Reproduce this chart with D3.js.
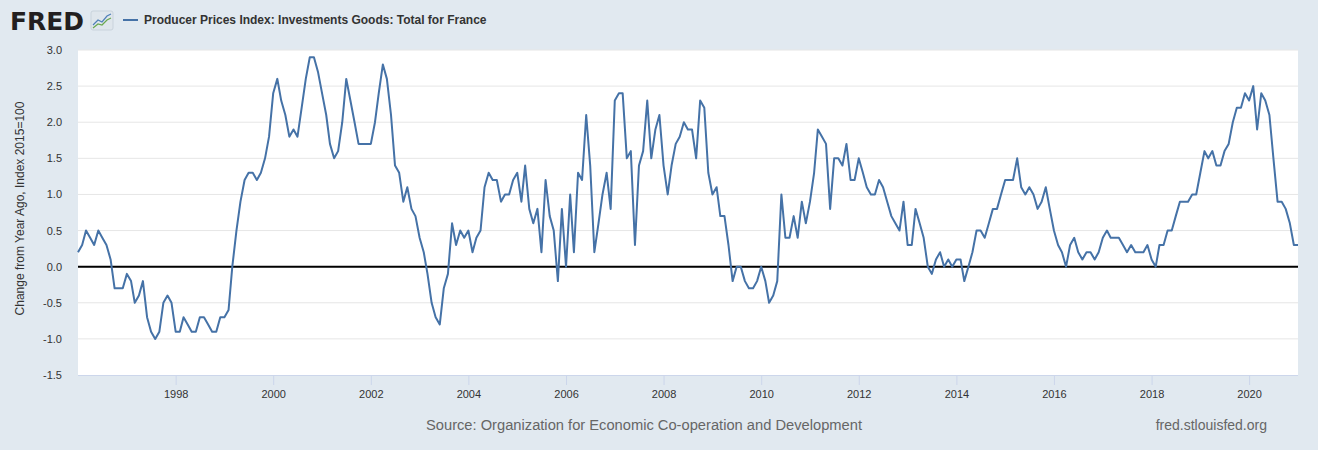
<!DOCTYPE html>
<html>
<head>
<meta charset="utf-8">
<script src="https://cdn.jsdelivr.net/npm/d3@7"></script>
<style>
  html, body { margin: 0; padding: 0; background: #e1e9f0; }
  svg { display: block; font-family: "Liberation Sans", Arial, Helvetica, sans-serif; }
</style>
</head>
<body>
<svg id="chart" width="1318" height="450"></svg>
<script>
// ---- Data (monthly, 1996-01 .. 2021-01) ----
const startYear = 1996;
const startMonth = 0;
const values = [
  // 1996
  0.2, 0.3, 0.5, 0.4, 0.3, 0.5, 0.4, 0.3, 0.1, -0.3, -0.3, -0.3,
  // 1997
  -0.1, -0.2, -0.5, -0.4, -0.2, -0.7, -0.9, -1.0, -0.9, -0.5, -0.4, -0.5,
  // 1998
  -0.9, -0.9, -0.7, -0.8, -0.9, -0.9, -0.7, -0.7, -0.8, -0.9, -0.9, -0.7,
  // 1999
  -0.7, -0.6, 0.0, 0.5, 0.9, 1.2, 1.3, 1.3, 1.2, 1.3, 1.5, 1.8,
  // 2000
  2.4, 2.6, 2.3, 2.1, 1.8, 1.9, 1.8, 2.2, 2.6, 2.9, 2.9, 2.7,
  // 2001
  2.4, 2.1, 1.7, 1.5, 1.6, 2.0, 2.6, 2.3, 2.0, 1.7, 1.7, 1.7,
  // 2002
  1.7, 2.0, 2.4, 2.8, 2.6, 2.1, 1.4, 1.3, 0.9, 1.1, 0.8, 0.7,
  // 2003
  0.4, 0.2, -0.1, -0.5, -0.7, -0.8, -0.3, -0.1, 0.6, 0.3, 0.5, 0.4,
  // 2004
  0.5, 0.2, 0.4, 0.5, 1.1, 1.3, 1.2, 1.2, 0.9, 1.0, 1.0, 1.2,
  // 2005
  1.3, 0.9, 1.4, 0.8, 0.6, 0.8, 0.2, 1.2, 0.7, 0.5, -0.2, 0.8,
  // 2006
  0.0, 1.0, 0.2, 1.3, 1.2, 2.1, 1.4, 0.2, 0.6, 1.0, 1.3, 0.8,
  // 2007
  2.3, 2.4, 2.4, 1.5, 1.6, 0.3, 1.4, 1.6, 2.3, 1.5, 1.9, 2.1,
  // 2008
  1.4, 1.0, 1.4, 1.7, 1.8, 2.0, 1.9, 1.9, 1.5, 2.3, 2.2, 1.3,
  // 2009
  1.0, 1.1, 0.7, 0.7, 0.3, -0.2, 0.0, 0.0, -0.2, -0.3, -0.3, -0.2,
  // 2010
  0.0, -0.2, -0.5, -0.4, -0.2, 1.0, 0.4, 0.4, 0.7, 0.4, 0.9, 0.6,
  // 2011
  0.9, 1.3, 1.9, 1.8, 1.7, 0.8, 1.5, 1.5, 1.4, 1.7, 1.2, 1.2,
  // 2012
  1.5, 1.3, 1.1, 1.0, 1.0, 1.2, 1.1, 0.9, 0.7, 0.6, 0.5, 0.9,
  // 2013
  0.3, 0.3, 0.8, 0.6, 0.4, 0.0, -0.1, 0.1, 0.2, 0.0, 0.1, 0.0,
  // 2014
  0.1, 0.1, -0.2, 0.0, 0.2, 0.5, 0.5, 0.4, 0.6, 0.8, 0.8, 1.0,
  // 2015
  1.2, 1.2, 1.2, 1.5, 1.1, 1.0, 1.1, 1.0, 0.8, 0.9, 1.1, 0.8,
  // 2016
  0.5, 0.3, 0.2, 0.0, 0.3, 0.4, 0.2, 0.1, 0.2, 0.2, 0.1, 0.2,
  // 2017
  0.4, 0.5, 0.4, 0.4, 0.4, 0.3, 0.2, 0.3, 0.2, 0.2, 0.2, 0.3,
  // 2018
  0.1, 0.0, 0.3, 0.3, 0.5, 0.5, 0.7, 0.9, 0.9, 0.9, 1.0, 1.0,
  // 2019
  1.3, 1.6, 1.5, 1.6, 1.4, 1.4, 1.6, 1.7, 2.0, 2.2, 2.2, 2.4,
  // 2020
  2.3, 2.5, 1.9, 2.4, 2.3, 2.1, 1.5, 0.9, 0.9, 0.8, 0.6, 0.3,
  // 2021
  0.3
];
const yTicks = [-1.5, -1.0, -0.5, 0.0, 0.5, 1.0, 1.5, 2.0, 2.5, 3.0];
const xTickYears = [1998, 2000, 2002, 2004, 2006, 2008, 2010, 2012, 2014, 2016, 2018, 2020];
const seriesTitle = "Producer Prices Index: Investments Goods: Total for France";
const yAxisTitle = "Change from Year Ago, Index 2015=100";
const sourceText = "Source: Organization for Economic Co-operation and Development";
const siteText = "fred.stlouisfed.org";

const data = values.map((v, i) => ({ date: new Date(startYear, startMonth + i, 1), value: v }));

// ---- Layout ----
const svg = d3.select("#chart");
const W = 1318, H = 450;
const plot = { left: 78, right: 1298, top: 50, bottom: 375 };

svg.append("rect").attr("width", W).attr("height", H).attr("fill", "#e1e9f0");
svg.append("rect")
  .attr("x", plot.left).attr("y", plot.top)
  .attr("width", plot.right - plot.left).attr("height", plot.bottom - plot.top)
  .attr("fill", "#ffffff");

const x = d3.scaleTime()
  .domain([data[0].date, data[data.length - 1].date])
  .range([plot.left, plot.right]);
const y = d3.scaleLinear().domain([-1.5, 3.0]).range([plot.bottom, plot.top]);

// Gridlines
svg.append("g").selectAll("line").data(yTicks.filter(t => t !== -1.5)).join("line")
  .attr("x1", plot.left).attr("x2", plot.right)
  .attr("y1", d => y(d)).attr("y2", d => y(d))
  .attr("stroke", "#e6e6e6").attr("stroke-width", 1);

// Y axis labels (ASCII hyphen for negatives, as in the reference)
const fmt = d => d.toFixed(1);
const yAxis = d3.axisLeft(y).tickValues(yTicks).tickFormat(fmt).tickSize(0).tickPadding(16);
const gy = svg.append("g").attr("transform", `translate(${plot.left},0)`).call(yAxis);
gy.select(".domain").remove();
gy.selectAll("text").attr("fill", "#333").style("font-size", "11px");

// X axis
const xAxis = d3.axisBottom(x)
  .tickValues(xTickYears.map(yr => new Date(yr, 0, 1)))
  .tickFormat(d3.timeFormat("%Y"))
  .tickSize(10).tickPadding(5);
const gx = svg.append("g").attr("transform", `translate(0,${plot.bottom})`).call(xAxis);
gx.select(".domain").attr("stroke", "#ccd6eb").attr("d", `M${plot.left},0.5H${plot.right}`);
gx.selectAll(".tick line").attr("stroke", "#ccd6eb");
gx.selectAll("text").attr("fill", "#333").style("font-size", "11px");

// Zero line
svg.append("line")
  .attr("x1", plot.left).attr("x2", plot.right)
  .attr("y1", y(0)).attr("y2", y(0))
  .attr("stroke", "#000").attr("stroke-width", 2);

// Series line
const line = d3.line().x(d => x(d.date)).y(d => y(d.value));
svg.append("path").datum(data)
  .attr("d", line)
  .attr("fill", "none")
  .attr("stroke", "#4572a7")
  .attr("stroke-width", 2)
  .attr("stroke-linejoin", "round");

// Y axis title
svg.append("text")
  .attr("transform", `translate(24,${(plot.top + plot.bottom) / 2 - 4}) rotate(-90)`)
  .attr("text-anchor", "middle")
  .attr("fill", "#333")
  .style("font-size", "12px")
  .text(yAxisTitle);

// Header: FRED logo
svg.append("text")
  .attr("x", 10).attr("y", 30)
  .attr("fill", "#231f20")
  .attr("textLength", 74).attr("lengthAdjust", "spacingAndGlyphs")
  .style("font-size", "25px").style("font-weight", "900")
  .style("font-family", "'DejaVu Sans', 'Liberation Sans', Arial, sans-serif")
  .text("FRED");
const logo = svg.append("g").attr("transform", "translate(91,11)");
logo.append("rect").attr("width", 22).attr("height", 19).attr("rx", 2).attr("fill", "#dfe6ec").attr("stroke", "#c9d3dc");
logo.append("path").attr("d", "M2,14 L7,9 L11,11 L16,5 L20,3").attr("fill", "none").attr("stroke", "#4f7fb8").attr("stroke-width", 1.2);
logo.append("path").attr("d", "M2,17 L7,13 L11,14 L16,9 L20,7").attr("fill", "none").attr("stroke", "#6aa84f").attr("stroke-width", 1.2);

// Legend
svg.append("line").attr("x1", 123).attr("x2", 138).attr("y1", 20).attr("y2", 20)
  .attr("stroke", "#4572a7").attr("stroke-width", 2);
svg.append("text").attr("x", 144).attr("y", 24)
  .attr("fill", "#333").style("font-size", "12px").style("font-weight", "bold")
  .text(seriesTitle);

// Footer
svg.append("text").attr("x", 426).attr("y", 430)
  .attr("fill", "#666").style("font-size", "14.7px")
  .text(sourceText);
svg.append("text").attr("x", 1267).attr("y", 430).attr("text-anchor", "end")
  .attr("fill", "#666").style("font-size", "14px")
  .text(siteText);
</script>
</body>
</html>
